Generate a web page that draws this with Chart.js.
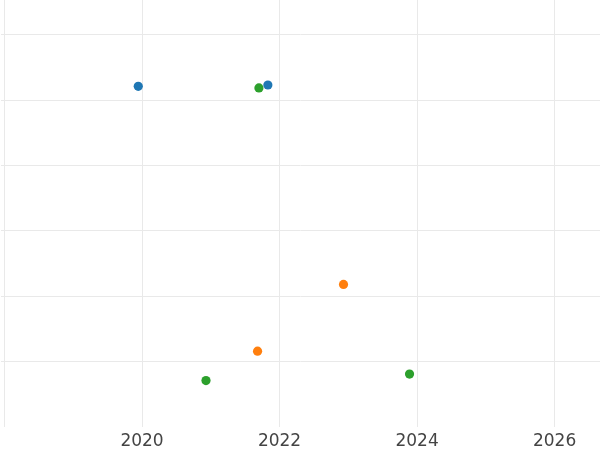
<!DOCTYPE html>
<html>
<head>
<meta charset="utf-8">
<script src="https://cdn.jsdelivr.net/npm/chart.js@4.4.0/dist/chart.umd.min.js"></script>
<style>
  html, body { margin: 0; padding: 0; background: #fff; }
  #wrap { width: 600px; height: 450px; }
</style>
</head>
<body>
<div id="wrap"><canvas id="c" width="600" height="450"></canvas></div>
<script>
// values (x = year, y = arbitrary units, grid every 10)
const blueX = [2019.945, 2021.83];
const blueY = [42.1, 42.3];
const orangeX = [2022.93, 2021.68];
const orangeY = [11.8, 1.6];
const greenX = [2021.70, 2020.93, 2023.89];
const greenY = [41.85, -2.9, -1.9];

const xTicks = [2018, 2020, 2022, 2024, 2026];
const yTicks = [0, 10, 20, 30, 40, 50];

function pts(xs, ys) {
    return xs.map(function (x, i) { return { x: x, y: ys[i] }; });
}

function series(xs, ys, color) {
    return {
        data: pts(xs, ys),
        backgroundColor: color,
        borderWidth: 0,
        pointRadius: 4.6,
        pointHoverRadius: 4.6
    };
}

const ctx = document.getElementById('c').getContext('2d');
new Chart(ctx, {
    type: 'scatter',
    data: {
        datasets: [
            series(blueX, blueY, '#1f77b4'),
            series(orangeX, orangeY, '#ff7f0e'),
            series(greenX, greenY, '#2ca02c')
        ]
    },
    options: {
        responsive: false,
        animation: false,
        layout: { padding: 0, autoPadding: false },
        plugins: {
            legend: { display: false },
            tooltip: { enabled: false }
        },
        scales: {
            x: {
                type: 'linear',
                min: 2017.952,
                max: 2026.66,
                border: { display: false },
                grid: { color: '#e9e9e9', lineWidth: 1, drawTicks: false },
                afterBuildTicks: function (axis) {
                    axis.ticks = xTicks.map(function (v) { return { value: v }; });
                },
                afterFit: function (axis) { axis.height = 23; },
                ticks: {
                    autoSkip: false,
                    maxRotation: 0,
                    padding: 4.5,
                    color: '#444',
                    font: { family: 'DejaVu Sans', size: 17 },
                    callback: function (v) { return v === 2018 ? '' : String(v); }
                }
            },
            y: {
                type: 'linear',
                min: -10,
                max: 55.3,
                border: { display: false },
                grid: { color: '#e9e9e9', lineWidth: 1, drawTicks: false },
                afterBuildTicks: function (axis) {
                    axis.ticks = yTicks.map(function (v) { return { value: v }; });
                },
                ticks: { display: false }
            }
        }
    }
});
</script>
</body>
</html>
